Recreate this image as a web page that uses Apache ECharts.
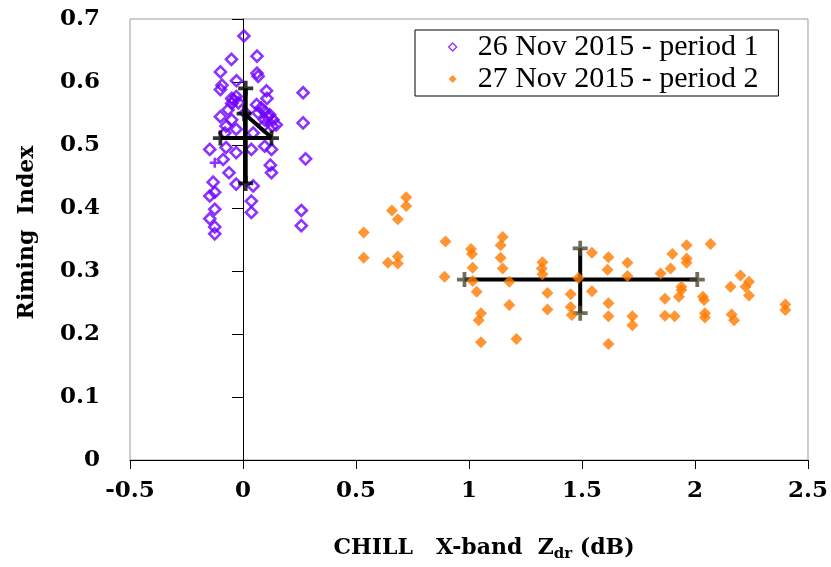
<!DOCTYPE html>
<html>
<head>
<meta charset="utf-8">
<script src="https://cdn.jsdelivr.net/npm/echarts@6/dist/echarts.min.js"></script>
<style>html,body{margin:0;padding:0;background:#fff;}#c{width:831px;height:567px;}</style>
</head>
<body>
<div id="c"></div>
<script>
const xTicks = [-0.5, 0, 0.5, 1, 1.5, 2, 2.5];
const yTicks = [0, 0.1, 0.2, 0.3, 0.4, 0.5, 0.6, 0.7];
const seriesNames = ['26 Nov 2015 - period 1', '27 Nov 2015 - period 2'];

const period1 = [
  [0.004,0.673],[0.062,0.641],[-0.051,0.636],[-0.10,0.616],[0.062,0.614],[0.067,0.609],
  [-0.029,0.602],[-0.093,0.595],[-0.10,0.588],[0.266,0.583],[0.104,0.586],[0.106,0.574],
  [-0.05,0.574],[-0.03,0.577],[-0.02,0.567],[-0.05,0.566],[-0.04,0.571],
  [0.06,0.564],[0.08,0.559],[0.096,0.553],[0.118,0.548],[0.133,0.540],[0.147,0.532],
  [0.067,0.551],[0.096,0.540],[0.11,0.545],[0.13,0.53],[0.09,0.53],
  [-0.066,0.556],[-0.10,0.545],[-0.05,0.540],[0.01,0.551],[-0.075,0.53],[-0.03,0.525],
  [-0.08,0.519],[0.045,0.519],[0.266,0.535],
  [-0.147,0.493],[-0.075,0.496],[-0.03,0.488],[0.037,0.493],[0.096,0.498],[0.126,0.493],
  [-0.088,0.477],[0.277,0.478],[0.121,0.468],[0.126,0.456],[-0.062,0.456],[-0.03,0.438],
  [0.045,0.435],[-0.132,0.441],[-0.125,0.425],[-0.147,0.419],[0.037,0.411],[-0.125,0.398],
  [0.037,0.393],[0.258,0.396],[0.258,0.372],[-0.147,0.383],[-0.125,0.370],[-0.125,0.359]
];
const period1Plus = [[-0.125,0.472]];

const period2 = [
  [0.722,0.417],[0.722,0.403],[0.659,0.396],[0.685,0.382],[0.534,0.361],[0.534,0.321],
  [0.641,0.313],[0.685,0.323],[0.685,0.312],
  [0.896,0.347],[0.892,0.291],[1.009,0.335],[1.013,0.327],[1.016,0.305],[1.016,0.284],
  [1.034,0.267],[1.053,0.233],[1.043,0.222],[1.053,0.187],
  [1.149,0.354],[1.14,0.341],[1.14,0.321],[1.149,0.304],[1.178,0.283],[1.178,0.246],[1.21,0.192],
  [1.325,0.314],[1.322,0.304],[1.325,0.295],[1.347,0.265],[1.347,0.239],
  [1.45,0.263],[1.45,0.243],[1.455,0.230],[1.484,0.289],[1.544,0.329],[1.544,0.268],
  [1.617,0.322],[1.613,0.302],[1.617,0.249],[1.617,0.228],[1.617,0.184],[1.701,0.313],
  [1.701,0.292],[1.723,0.228],[1.723,0.214],
  [1.963,0.341],[2.069,0.343],[1.900,0.327],[1.963,0.320],[1.963,0.313],[1.892,0.304],
  [1.848,0.296],[1.94,0.275],[1.94,0.270],[1.929,0.259],[1.867,0.256],[1.867,0.229],
  [1.91,0.228],[2.035,0.259],[2.04,0.254],[2.044,0.233],[2.044,0.226],
  [2.157,0.275],[2.201,0.293],[2.239,0.283],[2.224,0.275],[2.239,0.261],[2.162,0.231],
  [2.173,0.222],[2.40,0.247],[2.40,0.238]
];

// error crosses (mean and ranges)
const p1Mean = [0.012, 0.511];
const p1RangeX = [-0.10, 0.126];
const p1RangeY = [0.439, 0.590];
const p1Diag = [[0.005, 0.550], [0.126, 0.512]];
const p2Mean = [1.492, 0.2865];
const p2RangeX = [0.98, 2.01];
const p2RangeY = [0.233, 0.336];

const plusPath = 'path://M-2,-8L2,-8L2,-2L8,-2L8,2L2,2L2,8L-2,8L-2,2L-8,2L-8,-2L-2,-2Z';
const purple = '#7000ff';
const orange = '#ff7a00';
const capOlive = '#4b4a35';
const tickFont = 'DejaVu Serif';

function segH(mean, range) { return [[range[0], mean[1]], [range[1], mean[1]]]; }
function segV(mean, range) { return [[mean[0], range[0]], [mean[0], range[1]]]; }
function lineSeries(data, z) {
  return { type: 'line', data: data, symbol: 'none', z: z, silent: true,
    lineStyle: { color: '#000', width: 4 }, animation: false };
}
function capSeries(data, color, z, size) {
  return { type: 'scatter', data: data, symbol: plusPath, symbolSize: size, z: z, silent: true,
    itemStyle: { color: color }, animation: false };
}

const chart = echarts.init(document.getElementById('c'), null, { renderer: 'canvas' });
chart.setOption({
  animation: false,
  backgroundColor: '#fff',
  grid: { left: 130, right: 22, top: 19, bottom: 104, show: true, borderColor: '#9a9a9a', borderWidth: 1 },
  legend: {
    orient: 'vertical', left: 415, top: 30,
    padding: [2, 20, 2, 33], itemGap: 2, itemWidth: 8, itemHeight: 8,
    borderColor: '#000', borderWidth: 1, backgroundColor: '#fff',
    data: [
      { name: seriesNames[0], icon: 'diamond', itemStyle: { color: 'rgba(255,255,255,0)', borderColor: purple, borderWidth: 1.3 } },
      { name: seriesNames[1], icon: 'diamond' }
    ],
    textStyle: { fontFamily: 'Liberation Serif', fontSize: 30, lineHeight: 30, color: '#000', padding: [0, 0, 0, 16] }
  },
  xAxis: {
    type: 'value', min: xTicks[0], max: xTicks[xTicks.length - 1], interval: 0.5,
    splitLine: { show: false },
    axisLine: { onZero: false, lineStyle: { color: '#000', width: 1 } },
    axisTick: { show: true, length: 9, lineStyle: { color: '#000' } },
    axisLabel: { margin: 20, color: '#000', fontFamily: tickFont, fontWeight: 'bold', fontSize: 23 },
    name: '{n|CHILL   X-band  Z}{s|dr}{n| (dB)}',
    nameLocation: 'middle', nameGap: 74,
    nameTextStyle: {
      padding: [0, 0, 0, 30],
      rich: {
        n: { fontFamily: tickFont, fontWeight: 'bold', fontSize: 22, color: '#000', lineHeight: 28 },
        s: { fontFamily: tickFont, fontWeight: 'bold', fontSize: 15, color: '#000', lineHeight: 28, verticalAlign: 'bottom', padding: [10, 0, 0, 0] }
      }
    }
  },
  yAxis: {
    type: 'value', min: yTicks[0], max: yTicks[yTicks.length - 1], interval: 0.1,
    splitLine: { show: false },
    axisLine: { show: true, lineStyle: { color: '#000', width: 1 } },
    axisTick: { show: true, length: 11, lineStyle: { color: '#000' } },
    axisLabel: { margin: 30, color: '#000', fontFamily: tickFont, fontWeight: 'bold', fontSize: 23 },
    name: 'Riming  Index', nameLocation: 'middle', nameGap: 92, nameRotate: 90,
    nameTextStyle: { fontFamily: tickFont, fontWeight: 'bold', fontSize: 22, color: '#000', padding: [0, 0, 0, 14] }
  },
  series: [
    { name: seriesNames[0], type: 'scatter', data: period1, symbol: 'diamond', symbolSize: 11, z: 2,
      itemStyle: { color: 'rgba(255,255,255,0)', borderColor: purple, borderWidth: 2.6 } },
    { type: 'scatter', data: period1Plus, symbol: plusPath, symbolSize: 10, z: 2, silent: true,
      itemStyle: { color: purple } },
    lineSeries(segH(p1Mean, p1RangeX), 4),
    lineSeries(segV(p1Mean, p1RangeY), 4),
    lineSeries(p1Diag, 4),
    capSeries([[p1RangeX[0], p1Mean[1]], [p1RangeX[1], p1Mean[1]], [p1Mean[0], p1RangeY[0]], [p1Mean[0], p1RangeY[1]], p1Diag[0]], '#000', 5, 15),
    lineSeries(segH(p2Mean, p2RangeX), 4),
    lineSeries(segV(p2Mean, p2RangeY), 4),
    capSeries([[p2RangeX[0], p2Mean[1]], [p2RangeX[1], p2Mean[1]], [p2Mean[0], p2RangeY[0]], [p2Mean[0], p2RangeY[1]]], capOlive, 5, 15),
    { name: seriesNames[1], type: 'scatter', data: period2, symbol: 'diamond', symbolSize: 12, z: 6,
      itemStyle: { color: orange } }
  ]
});
</script>
</body>
</html>
